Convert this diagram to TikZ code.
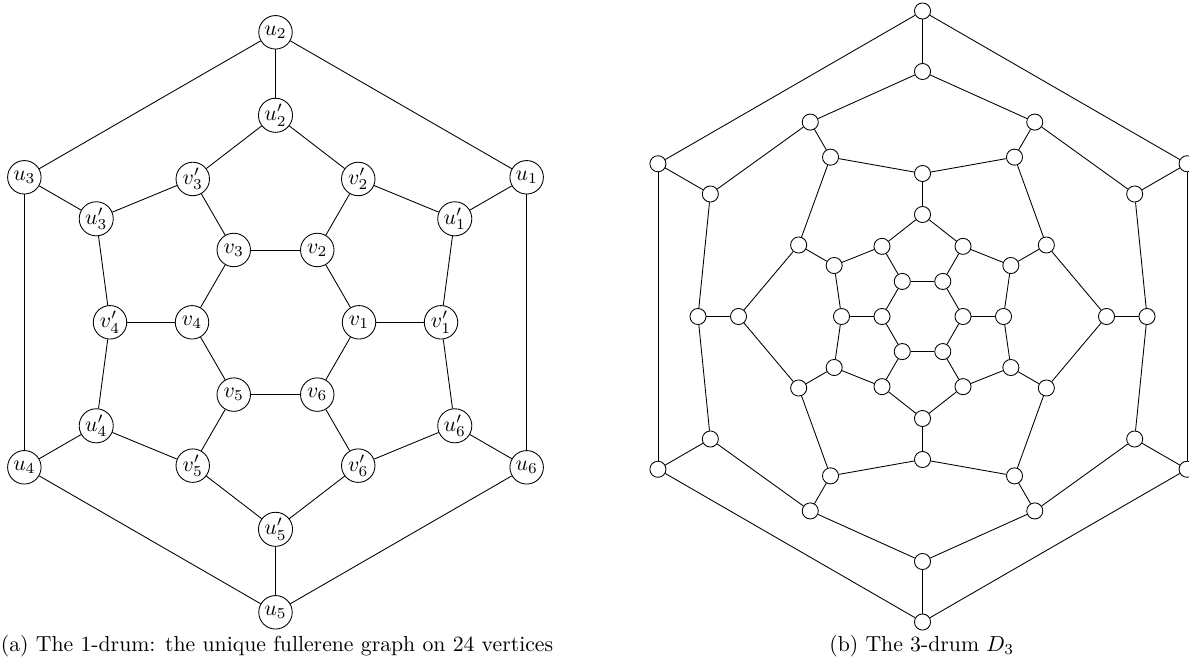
\documentclass[tikz,border=0pt]{standalone}

\tikzset{
  bigvert/.style={circle, draw, minimum size=15.4pt, inner sep=0.5pt},
  smallvert/.style={circle, draw, minimum size=7.4pt, inner sep=0pt},
}

\begin{document}
\begin{tikzpicture}[x=0.46pt, y=0.46pt]
    \useasboundingbox (0,0) rectangle (1189,-666);

    % The 1-drum
    \begin{scope}[shift={(275.5,-322.3)}]
        \foreach \i in {1,...,6} {
            \node[bigvert] (v\i) at ({60*(\i-1)}:83.5) {$v_{\i}$};
            \node[bigvert] (vp\i) at ({60*(\i-1)}:165.5) {$v'_{\i}$};
            \node[bigvert] (up\i) at ({60*(\i-1)+30}:207) {$u'_{\i}$};
            \node[bigvert] (u\i) at ({60*(\i-1)+30}:290) {$u_{\i}$};
        }
        \foreach \i [evaluate=\i as \j using {int(mod(\i,6)+1)},
                     evaluate=\i as \h using {int(mod(\i+4,6)+1)}] in {1,...,6} {
            \draw (v\i) -- (v\j);
            \draw (v\i) -- (vp\i);
            \draw (vp\i) -- (up\i);
            \draw (vp\i) -- (up\h);
            \draw (up\i) -- (u\i);
            \draw (u\i) -- (u\j);
        }
    \end{scope}

    % The 3-drum
    \begin{scope}[shift={(922.5,-316.5)}]
        \foreach \k in {0,...,5} {
            \node[smallvert] (h\k) at (60*\k:40.5) {};
            \node[smallvert] (a\k) at (60*\k:81) {};
            \node[smallvert] (b\k) at (60*\k+30:102) {};
            \node[smallvert] (d\k) at (60*\k+30:143) {};
            \node[smallvert] (c\k) at (60*\k:184) {};
            \node[smallvert] (e\k) at (60*\k:224.5) {};
            \node[smallvert] (f\k) at (60*\k+30:245) {};
            \node[smallvert] (g\k) at (60*\k+30:305.5) {};
        }
        \foreach \k [evaluate=\k as \n using {int(mod(\k+1,6))}] in {0,...,5} {
            \draw (h\k) -- (h\n);
            \draw (h\k) -- (a\k);
            \draw (a\k) -- (b\k) -- (a\n);
            \draw (b\k) -- (d\k);
            \draw (c\k) -- (d\k) -- (c\n);
            \draw (c\k) -- (e\k);
            \draw (e\k) -- (f\k) -- (e\n);
            \draw (f\k) -- (g\k);
            \draw (g\k) -- (g\n);
        }
    \end{scope}

    % Captions
    \node[anchor=base] (capa) at (277,-651) {(a) The 1-drum: the unique fullerene graph on 24 vertices};
    \node[anchor=base] (capb) at (921.7,-651) {(b) The 3-drum $D_3$};

\end{tikzpicture}
\end{document}
